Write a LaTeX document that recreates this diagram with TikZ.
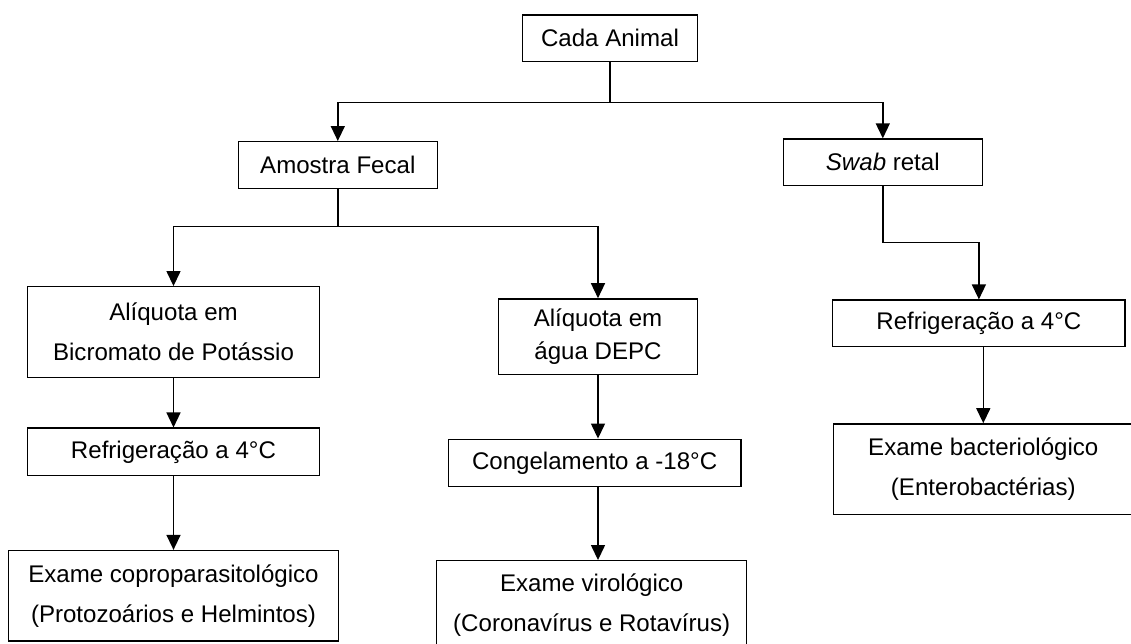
\documentclass[tikz,border=0pt]{standalone}
\usepackage{fontspec}
\setmainfont{Liberation Sans}
\usepackage{tikz}
\usetikzlibrary{arrows.meta, positioning}

\begin{document}
\begin{tikzpicture}[
    box/.style={draw, line width=0.8pt, align=center, inner sep=0pt,
        font=\fontsize{13.7}{22.8}\selectfont},
    arr/.style={-{Triangle[length=0.3cm, width=0.28cm]}, line width=0.8pt},
    lin/.style={line width=0.8pt}]
    \useasboundingbox (0,0) rectangle (22.62,-12.86);
    % top levels
    \node[box, minimum width=3.49cm, minimum height=0.93cm] (cada) at (12.2,-0.767) {Cada Animal};
    \node[box, minimum width=3.98cm, minimum height=0.94cm] (fecal) at (6.756,-3.304) {Amostra Fecal};
    \node[box, minimum width=3.98cm, minimum height=0.93cm] (swab) at (17.656,-3.246) {\textit{Swab} retal};
    % left column
    \node[box, minimum width=5.83cm, minimum height=1.81cm] (bicro) at (3.47,-6.64) {Alíquota em\\Bicromato de Potássio};
    \node[box, minimum width=5.85cm, minimum height=0.95cm, below=0.99cm of bicro] (refrigL) {Refrigeração a 4°C};
    \node[box, minimum width=6.59cm, minimum height=1.81cm, below=1.47cm of refrigL] (copro) {Exame coproparasitológico\\(Protozoários e Helmintos)};
    % middle column
    \node[box, minimum width=3.99cm, minimum height=1.51cm,
          font=\fontsize{13.7}{18.8}\selectfont] (depc) at (11.96,-6.733) {Alíquota em\\água DEPC};
    \node[box, minimum width=5.85cm, minimum height=0.95cm] (congel) at (11.893,-9.26) {Congelamento a -18°C};
    \node[box, minimum width=6.2cm, minimum height=1.77cm] (viro) at (11.834,-12.1) {Exame virológico\\(Coronavírus e Rotavírus)};
    % right column
    \node[box, minimum width=5.85cm, minimum height=0.93cm] (refrigR) at (19.578,-6.467) {Refrigeração a 4°C};
    \node[box, minimum width=6.0cm, minimum height=1.81cm] (bacter) at (19.666,-9.383) {Exame bacteriológico\\(Enterobactérias)};
    % connectors
    \coordinate (j1) at ([yshift=-0.8cm]cada.south);
    \coordinate (j2) at ([yshift=-0.74cm]fecal.south);
    \coordinate (j3) at ([yshift=-1.13cm]swab.south);
    \draw[lin] (cada.south) -- (j1);
    \draw[arr] (j1) -| (fecal.north);
    \draw[arr] (j1) -| (swab.north);
    \draw[lin] (fecal.south) -- (j2);
    \draw[arr] (j2) -| (bicro.north);
    \draw[arr] (j2) -| (depc.north);
    \draw[lin] (swab.south) -- (j3);
    \draw[arr] (j3) -| (refrigR.north);
    \draw[arr] (bicro) -- (refrigL);
    \draw[arr] (refrigL) -- (copro);
    \draw[arr] (depc.south) -- (depc.south |- congel.north);
    \draw[arr] (depc.south |- congel.south) -- (depc.south |- viro.north);
    \draw[arr] (bacter.north |- refrigR.south) -- (bacter.north);
\end{tikzpicture}
\end{document}
